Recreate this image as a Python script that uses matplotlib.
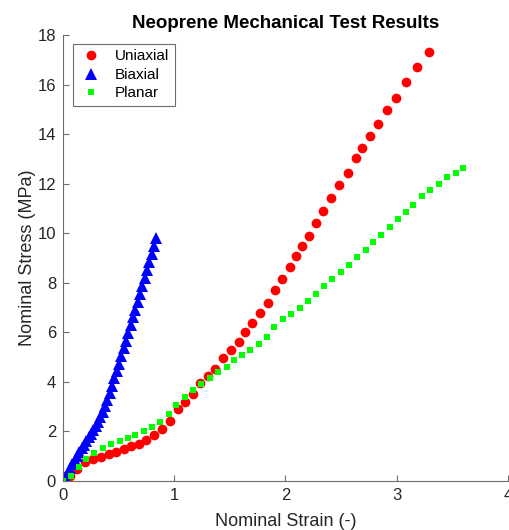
import matplotlib
matplotlib.use("Agg")
import matplotlib.pyplot as plt

plt.rcParams["font.family"] = ["Liberation Sans", "DejaVu Sans"]

# uniaxial test (nominal strain, nominal stress in MPa)
uni_strain = [0.00, 0.06, 0.13, 0.20, 0.27, 0.34, 0.41, 0.48, 0.55, 0.61,
              0.68, 0.75, 0.82, 0.89, 0.96, 1.03, 1.10, 1.17, 1.23, 1.30,
              1.37, 1.44, 1.51, 1.58, 1.64, 1.70, 1.77, 1.84, 1.91, 1.97,
              2.04, 2.09, 2.15, 2.21, 2.27, 2.34, 2.41, 2.48, 2.56, 2.63,
              2.69, 2.76, 2.83, 2.91, 2.99, 3.08, 3.18, 3.29]
uni_stress = [0.00, 0.21, 0.50, 0.77, 0.88, 0.98, 1.09, 1.18, 1.29, 1.40,
              1.51, 1.67, 1.86, 2.10, 2.44, 2.92, 3.20, 3.50, 3.94, 4.24,
              4.54, 4.97, 5.29, 5.62, 6.03, 6.38, 6.77, 7.20, 7.69, 8.16,
              8.64, 9.07, 9.49, 9.90, 10.41, 10.89, 11.43, 11.94, 12.44, 13.02,
              13.42, 13.93, 14.41, 14.96, 15.47, 16.09, 16.71, 17.33]

# equibiaxial test
bi_strain = [0.000, 0.021, 0.042, 0.063, 0.084, 0.105, 0.126, 0.147, 0.168, 0.189,
             0.210, 0.231, 0.252, 0.273, 0.294, 0.315, 0.336, 0.357, 0.378, 0.399,
             0.420, 0.441, 0.462, 0.483, 0.504, 0.525, 0.546, 0.567, 0.588, 0.609,
             0.630, 0.651, 0.672, 0.693, 0.714, 0.735, 0.756, 0.777, 0.798, 0.819,
             0.840]
bi_stress = [0.00, 0.17, 0.34, 0.51, 0.68, 0.85, 1.01, 1.17, 1.32, 1.47,
             1.62, 1.76, 1.91, 2.06, 2.22, 2.39, 2.58, 2.79, 3.02, 3.27,
             3.55, 3.84, 4.14, 4.44, 4.74, 5.04, 5.35, 5.66, 5.97, 6.28,
             6.60, 6.92, 7.24, 7.56, 7.88, 8.20, 8.52, 8.84, 9.16, 9.48,
             9.80]

# planar (pure shear) test
pl_strain = [0.00, 0.07, 0.14, 0.21, 0.28, 0.36, 0.43, 0.51, 0.58, 0.65,
             0.73, 0.80, 0.87, 0.95, 1.02, 1.10, 1.17, 1.24, 1.32, 1.39,
             1.47, 1.54, 1.61, 1.68, 1.76, 1.83, 1.90, 1.98, 2.05, 2.13,
             2.20, 2.27, 2.35, 2.42, 2.50, 2.57, 2.64, 2.72, 2.79, 2.86,
             2.94, 3.01, 3.08, 3.15, 3.23, 3.30, 3.38, 3.45, 3.53, 3.60]
pl_stress = [0.00, 0.20, 0.55, 0.90, 1.14, 1.33, 1.48, 1.62, 1.73, 1.86,
             2.00, 2.18, 2.40, 2.71, 3.06, 3.41, 3.68, 3.92, 4.16, 4.39,
             4.62, 4.87, 5.10, 5.30, 5.51, 5.80, 6.21, 6.52, 6.74, 6.99,
             7.26, 7.54, 7.85, 8.15, 8.43, 8.71, 9.03, 9.33, 9.64, 9.94,
             10.25, 10.57, 10.85, 11.15, 11.51, 11.75, 12.00, 12.25, 12.43, 12.63]

x_ticks = [0, 1, 2, 3, 4]
y_ticks = [0, 2, 4, 6, 8, 10, 12, 14, 16, 18]

fig = plt.figure(figsize=(5.1, 5.3), dpi=100)
ax = fig.add_axes([63 / 510, 49 / 530, 445 / 510, 446 / 530])

ax.plot(uni_strain, uni_stress, "o", color="#ff0000", markersize=7,
        markeredgewidth=0, label="Uniaxial")
ax.plot(bi_strain, bi_stress, "^", color="#0000ff", markersize=8,
        markeredgewidth=0, label="Biaxial")
ax.plot(pl_strain, pl_stress, "s", color="#00ff00", markersize=5,
        markeredgewidth=0, label="Planar")

ax.set_xlim(0, 4)
ax.set_ylim(0, 18)
ax.set_xticks(x_ticks)
ax.set_yticks(y_ticks)

# matlab-ish axes: no box, ticks pointing in
for side in ["top", "right"]:
    ax.spines[side].set_visible(False)
for side in ["left", "bottom"]:
    ax.spines[side].set_color("#6e6e6e")
    ax.spines[side].set_linewidth(0.8)
ax.tick_params(direction="in", length=4, width=0.8, color="#6e6e6e",
               labelcolor="#262626", labelsize=12, pad=5)

ax.set_title("Neoprene Mechanical Test Results", fontsize=13.5,
             fontweight="bold", pad=5)
ax.set_xlabel("Nominal Strain (-)", fontsize=13, color="#262626", labelpad=7)
ax.set_ylabel("Nominal Stress (MPa)", fontsize=13, color="#262626", labelpad=1)

leg = ax.legend(loc="upper left", bbox_to_anchor=(0.0225, 0.98),
                borderaxespad=0, fontsize=11, fancybox=False,
                edgecolor="#6e6e6e", framealpha=1, labelspacing=0.3,
                handletextpad=0.8, borderpad=0.35, handlelength=1.6)
leg.get_frame().set_linewidth(0.8)

fig.savefig("out.png", dpi=100)
